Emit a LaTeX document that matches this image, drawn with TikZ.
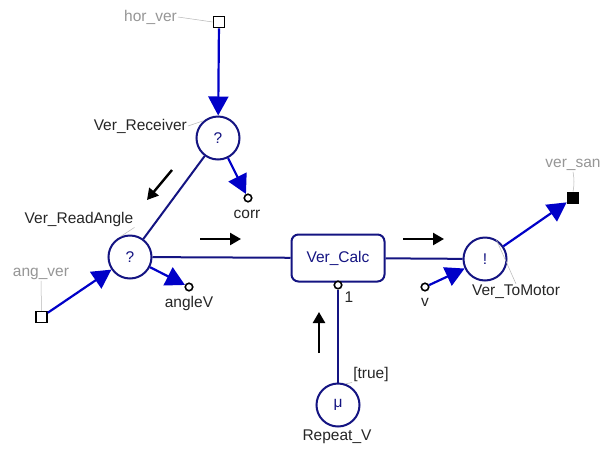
\documentclass[tikz,border=0pt]{standalone}
\usepackage{fontspec}
\setmainfont{Liberation Sans}
\usetikzlibrary{arrows.meta, positioning}
\definecolor{navyline}{RGB}{20,20,130}
\definecolor{flowblue}{RGB}{0,0,200}
\definecolor{taggray}{RGB}{150,150,150}

\begin{document}
\begin{tikzpicture}[x=1pt, y=-1pt, font=\fontsize{15.5}{18}\selectfont,
  proc/.style={circle, draw=navyline, line width=2pt, minimum size=43pt, inner sep=0pt, text=navyline, fill=white},
  calcbox/.style={rectangle, rounded corners=7pt, draw=navyline, line width=2pt, minimum width=93pt, minimum height=47pt, text=navyline, fill=white},
  pin/.style={circle, draw=black, line width=1.6pt, minimum size=7.5pt, inner sep=0pt, fill=white},
  extport/.style={rectangle, draw=black, line width=1.6pt, minimum size=11pt, inner sep=0pt, fill=white},
  link/.style={navyline, line width=2pt},
  flow/.style={flowblue, line width=2.2pt, -{Triangle[length=19pt,width=20pt]}},
  hint/.style={black, line width=2.4pt, -{Triangle[length=11pt,width=12pt]}},
  tag/.style={text=taggray, inner sep=1pt},
  lbl/.style={text=black!85, inner sep=1pt},
  leader/.style={taggray!70, line width=0.5pt}
]
  \useasboundingbox[fill=white] (0,0) rectangle (611,448);

  % Processes
  \node[proc] (recv) at (218,138) {?};
  \node[proc] (rdang) at (130,257) {?};
  \node[calcbox] (calc) at (338,258) {Ver\_Calc};
  \node[proc] (motor) at (485,259) {!};
  \node[proc] (rep) at (338,405) {μ};

  % External ports
  \node[extport] (horver) at (219,22) {};
  \node[extport] (angver) at (41.5,317) {};
  \node[extport, fill=black] (versan) at (573,198) {};

  % Local pins
  \node[pin] (corr) at (248,198) {};
  \node[pin] (anglev) at (189,287) {};
  \node[pin] (vpin) at (425,287) {};
  \node[pin] (calcport) at (338,285) {};

  % Labels
  \node[tag, anchor=east] (horverlbl) at (178,17) {hor\_ver};
  \node[lbl, anchor=east] (recvlbl) at (188,126) {Ver\_Receiver};
  \node[lbl] (rdanglbl) at (79,219) {Ver\_ReadAngle};
  \node[tag] (angverlbl) at (41,274) {ang\_ver};
  \node[lbl] (corrlbl) at (247,214) {corr};
  \node[lbl] (anglevlbl) at (189,303) {angleV};
  \node[lbl] (vlbl) at (425,302) {v};
  \node[lbl] (motorlbl) at (516,292) {Ver\_ToMotor};
  \node[tag] (versanlbl) at (573,165) {ver\_san};
  \node[lbl] (portlbl) at (349,297) {1};
  \node[lbl] (truelbl) at (371,374) {[true]};
  \node[lbl] (replbl) at (337,437) {Repeat\_V};

  % Leader lines
  \draw[leader] (horverlbl.east) -- (horver.west);
  \draw[leader] (recvlbl.east) -- (recv.130);
  \draw[leader] (rdanglbl.south east) -- (rdang.115);
  \draw[leader] (angverlbl.south) -- (angver.north);
  \draw[leader] (motor.60) -- (motorlbl.north);
  \draw[leader] (versanlbl.south) to[bend left=10] (versan.north);
  \draw[leader] (truelbl.south west) -- (rep.70);

  % Links
  \draw[link] (recv) -- (rdang);
  \draw[link] (rdang) -- (calc);
  \draw[link] (calc) -- (motor);
  \draw[link] (rep) -- (calcport);

  % Flows
  \draw[flow] (horver) -- (recv);
  \draw[flow] (recv) -- (corr);
  \draw[flow] (angver) -- (rdang);
  \draw[flow] (rdang) -- (anglev);
  \draw[flow] (vpin) -- (motor);
  \draw[flow] (motor) -- (versan);

  % Direction hints
  \coordinate (h1a) at (172,170); \coordinate (h1b) at (147,200);
  \coordinate (h2a) at (200,239); \coordinate (h2b) at (241,239);
  \coordinate (h3a) at (403,239); \coordinate (h3b) at (444,239);
  \coordinate (h4a) at (319,353); \coordinate (h4b) at (319,312);
  \draw[hint] (h1a) -- (h1b);
  \draw[hint] (h2a) -- (h2b);
  \draw[hint] (h3a) -- (h3b);
  \draw[hint] (h4a) -- (h4b);
\end{tikzpicture}
\end{document}
